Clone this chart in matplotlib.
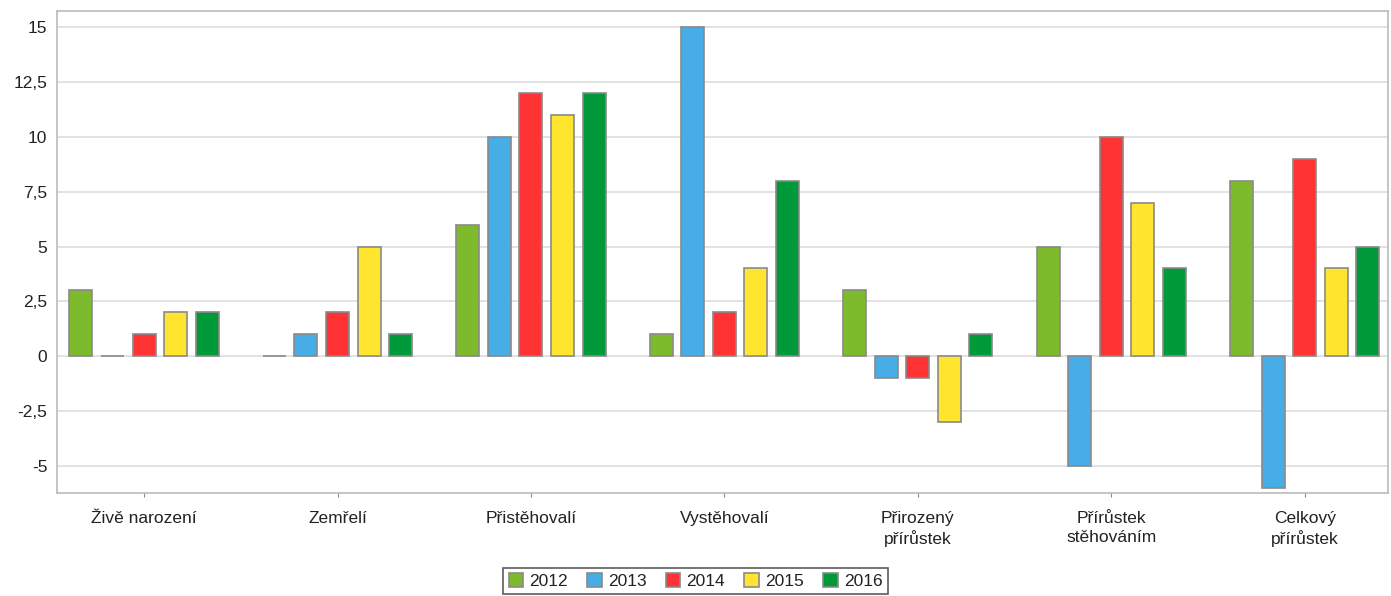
import numpy as np
import matplotlib.pyplot as plt
from matplotlib.ticker import FuncFormatter

plt.rcParams['font.family'] = ['Liberation Sans', 'DejaVu Sans']

# ── Data ────────────────────────────────────────────────────────────────────
categories = ["Živě narození", "Zemřelí", "Přistěhovalí", "Vystěhovalí",
              "Přirozený\npřírůstek", "Přírůstek\nstěhováním", "Celkový\npřírůstek"]
years = ["2012", "2013", "2014", "2015", "2016"]
v2012 = [3, 0, 6, 1, 3, 5, 8]
v2013 = [0, 1, 10, 15, -1, -5, -6]
v2014 = [1, 2, 12, 2, -1, 10, 9]
v2015 = [2, 5, 11, 4, -3, 7, 4]
v2016 = [2, 1, 12, 8, 1, 4, 5]
series = [v2012, v2013, v2014, v2015, v2016]
colors = ["#7dba2c", "#46ade6", "#ff3333", "#ffe52e", "#009a3a"]
yticks = [-5, -2.5, 0, 2.5, 5, 7.5, 10, 12.5, 15]

fig = plt.figure(figsize=(13.91, 5.96), dpi=100)
ax = fig.add_axes([57 / 1391, 1 - 493 / 596, (1388 - 57) / 1391, (493 - 11) / 596])

x = np.arange(len(categories))
step = 0.163
width = 0.119
for i, (vals, col, yr) in enumerate(zip(series, colors, years)):
    ax.bar(x + (i - 2) * step, vals, width, color=col, edgecolor="#8a8a8a",
           linewidth=1.2, label=yr, zorder=3)

ax.set_xlim(-0.45, 6.43)
ax.set_ylim(-6.23, 15.73)
ax.set_yticks(yticks)
ax.yaxis.set_major_formatter(FuncFormatter(lambda v, p: f"{v:g}".replace(".", ",")))
ax.set_xticks(x)
ax.set_xticklabels(categories, fontsize=12.5, linespacing=1.3, color="#222222")
ax.tick_params(axis="y", length=0, labelsize=12.5, pad=7, colors="#222222")
ax.tick_params(axis="x", length=3, color="#888888", labelsize=12.5, pad=10)
ax.grid(axis="y", color="#dddddd", linewidth=1.2, zorder=0)
for s in ax.spines.values():
    s.set_color("#bbbbbb")
    s.set_linewidth(1.2)

leg = fig.legend(loc="lower center", bbox_to_anchor=(0.5, 0.0), ncol=5, fontsize=12.5,
                 frameon=True, fancybox=False, edgecolor="#333333",
                 handlelength=0.85, handleheight=0.85, handletextpad=0.35,
                 columnspacing=1.1, borderpad=0.3, borderaxespad=0.1)
leg.get_frame().set_linewidth(1.2)
for t in leg.get_texts():
    t.set_color("#222222")

fig.savefig("out.png", dpi=100)
